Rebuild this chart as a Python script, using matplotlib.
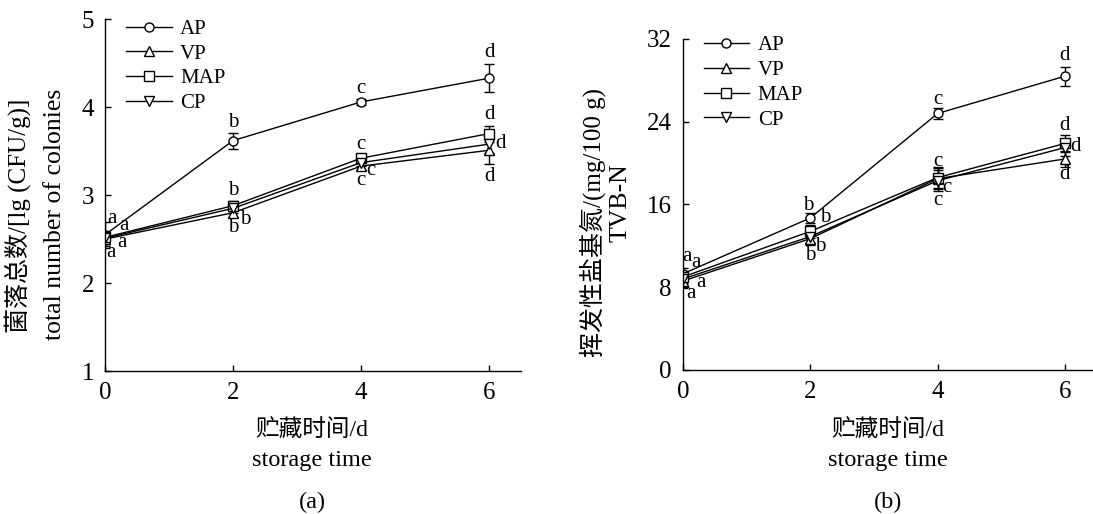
import matplotlib
matplotlib.use('Agg')
import matplotlib.pyplot as plt

plt.rcParams['font.family'] = ['Liberation Serif', 'Noto Sans CJK SC']
plt.rcParams['mathtext.fontset'] = 'stix'

days = [0, 2, 4, 6]
series_names = ['AP', 'VP', 'MAP', 'CP']
markers = ['o', '^', 's', 'v']

# (a) total number of colonies, lg(CFU/g)
colony_AP = [2.55, 3.62, 4.06, 4.33]
colony_VP = [2.50, 2.80, 3.33, 3.51]
colony_MAP = [2.52, 2.88, 3.42, 3.70]
colony_CP = [2.51, 2.85, 3.37, 3.58]
colony_err_AP = [0.15, 0.09, 0.03, 0.16]
colony_err_VP = [0.08, 0.05, 0.04, 0.16]
colony_err_MAP = [0.07, 0.05, 0.04, 0.09]
colony_err_CP = [0.07, 0.05, 0.04, 0.10]

# (b) TVB-N, mg/100 g
tvbn_AP = [9.3, 14.7, 24.8, 28.4]
tvbn_VP = [8.6, 12.7, 18.5, 20.4]
tvbn_MAP = [9.0, 13.4, 18.6, 21.9]
tvbn_CP = [8.8, 12.9, 18.3, 21.5]
tvbn_err_AP = [0.6, 0.5, 0.5, 0.9]
tvbn_err_VP = [0.7, 0.6, 1.0, 0.8]
tvbn_err_MAP = [0.6, 0.6, 1.0, 0.8]
tvbn_err_CP = [0.6, 0.6, 1.0, 0.8]

# significance letters and where they sit (data coords)
letters_a = ['a', 'a', 'a', 'a', 'b', 'b', 'b', 'b', 'c', 'c', 'c', 'c', 'd', 'd', 'd', 'd']
letter_pos_a = [(0.11, 2.73), (0.30, 2.66), (0.10, 2.35), (0.27, 2.46),
                (2.0, 3.83), (2.0, 3.05), (2.19, 2.72), (2.0, 2.63),
                (4.0, 4.21), (4.0, 3.58), (4.15, 3.28), (4.0, 3.17),
                (6.0, 4.62), (6.0, 3.92), (6.18, 3.59), (6.0, 3.21)]
letters_b = ['a', 'a', 'a', 'a', 'b', 'b', 'b', 'b', 'c', 'c', 'c', 'c', 'd', 'd', 'd', 'd']
letter_pos_b = [(0.06, 11.0), (0.21, 10.4), (0.28, 8.5), (0.12, 7.4),
                (1.96, 15.9), (2.23, 14.7), (2.15, 11.9), (1.99, 11.1),
                (4.0, 26.1), (4.0, 20.2), (4.14, 17.6), (4.0, 16.4),
                (6.0, 30.4), (6.0, 23.6), (6.17, 21.6), (6.0, 18.9)]

fig = plt.figure(figsize=(10.93, 5.14), dpi=100)
ax1 = fig.add_axes([0.0961, 0.2782, 0.3806, 0.6843])
ax2 = fig.add_axes([0.6249, 0.2802, 0.3751, 0.6440])


def draw(ax, vals, errs, letters, positions, ylim, yticks, leg_anchor):
    for name, m, v, e in zip(series_names, markers, vals, errs):
        ax.errorbar(days, v, yerr=e, color='black', lw=1.0, marker=m, ms=6.5,
                    mfc='white', mec='black', mew=1.0, capsize=3.5,
                    elinewidth=1.0, capthick=1.0, label=name)
    for t, (x, y) in zip(letters, positions):
        ax.text(x, y, t, fontsize=15, ha='center', va='center')
    ax.set_xlim(0, 6.5)
    ax.set_ylim(*ylim)
    ax.set_xticks(days)
    ax.set_yticks(yticks)
    for s in ['top', 'right']:
        ax.spines[s].set_visible(False)
    for s in ['left', 'bottom']:
        ax.spines[s].set_linewidth(1.0)
    ax.tick_params(direction='in', length=4, width=1.0, labelsize=18, pad=8)
    handles, labels = ax.get_legend_handles_labels()
    handles = [h[0] for h in handles]
    ax.legend(handles, labels, loc='upper left', bbox_to_anchor=leg_anchor,
              frameon=False, fontsize=15, handlelength=2.2, handletextpad=0.4,
              labelspacing=0.25, borderpad=0, borderaxespad=0)


draw(ax1, [colony_AP, colony_VP, colony_MAP, colony_CP],
     [colony_err_AP, colony_err_VP, colony_err_MAP, colony_err_CP],
     letters_a, letter_pos_a, (1, 5), [1, 2, 3, 4, 5], (0.05, 1.0))
draw(ax2, [tvbn_AP, tvbn_VP, tvbn_MAP, tvbn_CP],
     [tvbn_err_AP, tvbn_err_VP, tvbn_err_MAP, tvbn_err_CP],
     letters_b, letter_pos_b, (0, 32), [0, 8, 16, 24, 32], (0.05, 1.01))
ax2.set_xlim(0, 6.44)

# axis titles
fig.text(0.0165, 0.580, '菌落总数/[lg (CFU/g)]', rotation=90, ha='center', va='center', fontsize=18)
fig.text(0.0503, 0.582, 'total number of colonies', rotation=90, ha='center', va='center', fontsize=18.5)
fig.text(0.5425, 0.568, '挥发性盐基氮/(mg/100 g)', rotation=90, ha='center', va='center', fontsize=18)
fig.text(0.5680, 0.605, 'TVB-N', rotation=90, ha='center', va='center', fontsize=18.5)

for xc, tag in [(312 / 1093, '(a)'), (888 / 1093, '(b)')]:
    fig.text(xc, 0.163, '贮藏时间/d', ha='center', va='center', fontsize=17)
    fig.text(xc, 0.105, 'storage time', ha='center', va='center', fontsize=17.5)
    fig.text(xc, 0.023, tag, ha='center', va='center', fontsize=17.5)

fig.savefig('out.png', dpi=100)
